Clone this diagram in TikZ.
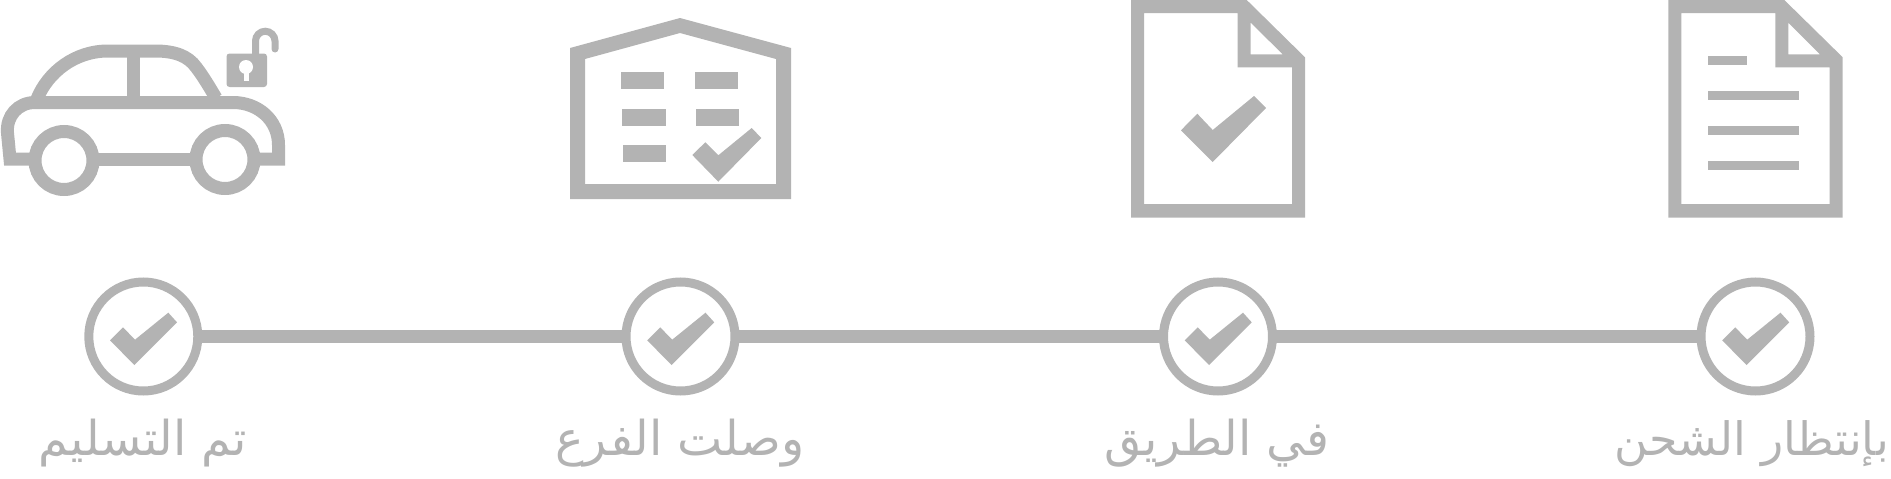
\documentclass[tikz,border=0pt]{standalone}
\usepackage{fontspec}
\newfontfamily\arabicfont[Script=Arabic]{DejaVu Sans}
\TeXXeTstate=1
\definecolor{gr}{HTML}{B3B3B3}
\tikzset{
  ico/.style={fill=gr,draw=none,even odd rule},
  bar/.style={fill=gr,draw=none},
  carline/.style={draw=gr,line width=13pt,line join=miter},
  stepdot/.style={circle,draw=gr,line width=9pt,fill=white,minimum size=109pt,inner sep=0pt,outer sep=0pt},
  link/.style={draw=gr,line width=13.4pt,yshift=1.5pt},
  lbl/.style={text=gr,anchor=base,inner sep=0pt,font=\fontsize{48}{48}\selectfont\arabicfont},
}
\newcommand{\tick}[2]{\fill[gr] (#1-33.3,#2+3.8)--(#1-20.3,#2-9.2)--(#1-8.3,#2+3.2)--(#1+25,#2-23.8)--(#1+33.7,#2-14.2)--(#1-9,#2+28.5)--cycle;}
\begin{document}
\begin{tikzpicture}[x=1pt,y=-1pt]
\useasboundingbox (0,0) rectangle (1891,479);
% car
\draw[carline] (256,159) -- (278.5,159) -- (278.5,145) .. controls (278.5,120) and (258,102.5) .. (233,102.5) -- (35,102.5) .. controls (18,102.5) and (6,116) .. (7.5,133) -- (10,159) -- (35,159);
\draw[carline] (95,159) -- (195,159);
\draw[carline,fill=white] (64,160.5) circle (29);
\draw[carline,fill=white] (225,159.5) circle (29);
\draw[carline] (37,99) .. controls (48,72) and (75,51) .. (108,51) -- (155,51) .. controls (175,51) and (188,56) .. (196,67) .. controls (203,76) and (210,88) .. (216,98);
\draw[carline] (133.5,51) -- (133.5,100);
% lock
\fill[gr,rounded corners=3pt] (226.5,53.5) rectangle (267,87);
\fill[white] (246,67) circle (7);
\fill[white] (244,70) rectangle (249,81);
\draw[gr,line width=7pt,line cap=round] (255.5,56) -- (255.5,41) arc[start angle=180,end angle=360,radius=9.75] -- (275,49);
% warehouse
\path[ico] (570,48)--(680,18)--(791,48)--(791,199)--(570,199)--cycle (585,59)--(680,33)--(776,59)--(776,184)--(585,184)--cycle;
\fill[bar] (621,72.3) rectangle (664.3,89.3);
\fill[bar] (694.7,72.3) rectangle (738,89.3);
\fill[bar] (622,108.7) rectangle (665.7,125.7);
\fill[bar] (695.7,108.7) rectangle (739,125.7);
\fill[bar] (623,145) rectangle (666.3,162.3);
\fill[gr] (692.3,155)--(705.3,142.3)--(718.3,155.3)--(751.7,128)--(761.3,138)--(718.3,181.7)--cycle;
% document with tick
\path[ico] (1131,0)--(1246.7,0)--(1305,57.3)--(1305,217.7)--(1131,217.7)--cycle (1144,13)--(1237.7,13)--(1237.7,67.3)--(1292,67.3)--(1292,204)--(1144,204)--cycle (1250.7,22.7)--(1282.7,54.3)--(1250.7,54.3)--cycle;
\fill[gr] (1181,130.3)--(1197.3,113.7)--(1212.7,130)--(1254,96)--(1266,108)--(1212.7,162)--cycle;
% document with lines
\path[ico] (1668.3,0)--(1784.3,0)--(1842.7,57.3)--(1842.7,217.7)--(1668.3,217.7)--cycle (1681.3,13)--(1775.3,13)--(1775.3,67.3)--(1829.7,67.3)--(1829.7,204)--(1681.3,204)--cycle (1788.3,22.7)--(1820,54.3)--(1788.3,54.3)--cycle;
\fill[bar] (1707.7,56.3) rectangle (1747,65.3);
\fill[bar] (1707.7,91) rectangle (1799.3,100);
\fill[bar] (1707.7,126) rectangle (1799.3,135);
\fill[bar] (1707.7,161) rectangle (1799.3,170);
% timeline
\node[stepdot] (s1) at (143.3,336.5) {};
\node[stepdot] (s2) at (680.5,336.5) {};
\node[stepdot] (s3) at (1218,336.5) {};
\node[stepdot] (s4) at (1755.5,336.5) {};
\path[link] (s1) -- (s2);
\path[link] (s2) -- (s3);
\path[link] (s3) -- (s4);
\tick{143.3}{336.5}
\tick{680.5}{336.5}
\tick{1218}{336.5}
\tick{1755.5}{336.5}
% labels
\node[lbl] (l1) at (143,455) {\beginR تم التسليم\endR};
\node[lbl] (l2) at (680,455) {\beginR وصلت الفرع\endR};
\node[lbl] (l3) at (1217,455) {\beginR في الطريق\endR};
\node[lbl,font=\fontsize{46}{46}\selectfont\arabicfont,anchor=base east] (l4) at (1889,455) {\beginR بإنتظار الشحن\endR};
\end{tikzpicture}
\end{document}
